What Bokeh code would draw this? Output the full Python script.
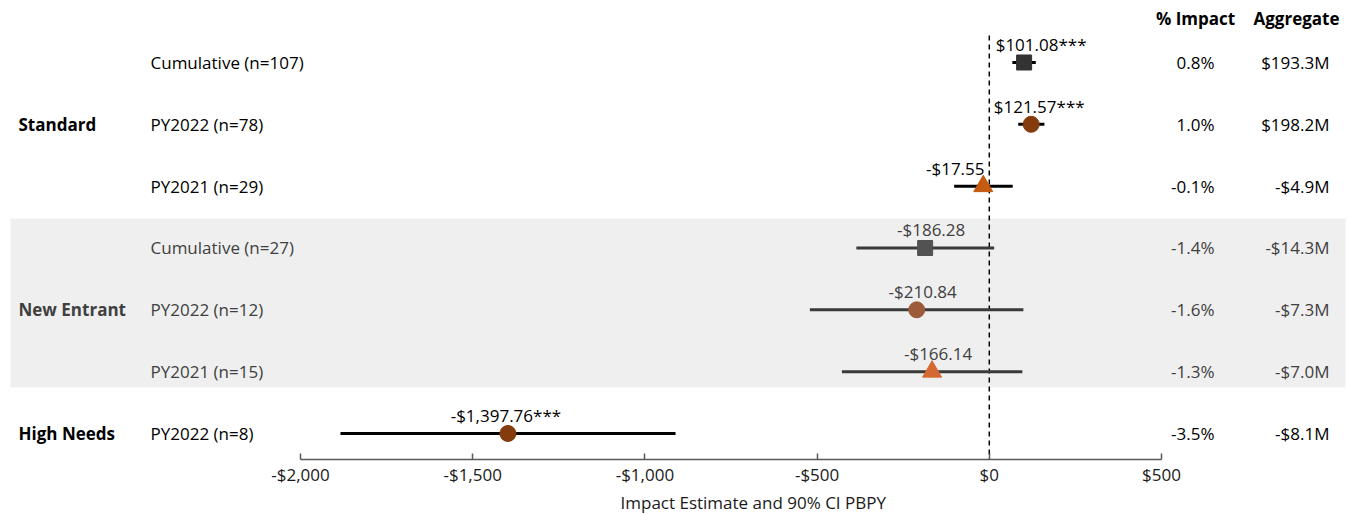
from bokeh.plotting import figure
from bokeh.models import Range1d, LinearAxis, FixedTicker, ColumnDataSource, Title
from bokeh.core.properties import value
from bokeh.embed import file_html
from bokeh.resources import INLINE

# ---- data ----
groups = ["Standard", "New Entrant", "High Needs"]
group_rows = [1, 4, 6]
subgroups = ["Cumulative (n=107)", "PY2022 (n=78)", "PY2021 (n=29)",
             "Cumulative (n=27)", "PY2022 (n=12)", "PY2021 (n=15)",
             "PY2022 (n=8)"]
estimates = [101.08, 121.57, -17.55, -186.28, -210.84, -166.14, -1397.76]
ci_low = [67, 84, -102, -386, -521, -428, -1884]
ci_high = [135, 160, 68, 14, 99, 96, -911]
stars = ["***", "***", "", "", "", "", "***"]
pct_impact = ["0.8%", "1.0%", "-0.1%", "-1.4%", "-1.6%", "-1.3%", "-3.5%"]
aggregate = ["$193.3M", "$198.2M", "-$4.9M", "-$14.3M", "-$7.3M", "-$7.0M", "-$8.1M"]
tick_vals = [-2000, -1500, -1000, -500, 0, 500]
tick_labels = ["-$2,000", "-$1,500", "-$1,000", "-$500", "$0", "$500"]

# ---- styles ----
marker_types = ["square", "circle", "triangle", "square", "circle", "triangle", "circle"]
marker_sizes = [15, 16, 19, 15, 16, 19, 16]
marker_colors = ["#333333", "#843C0C", "#C55A11",
                 "#525252", "#9E5B3B", "#D46A32", "#843C0C"]
ci_colors = ["#000000"] * 3 + ["#3A3A3A"] * 3 + ["#000000"]
text_colors = ["#000000"] * 3 + ["#404040"] * 3 + ["#000000"]
group_colors = ["#000000", "#404040", "#000000"]
label_dx = [17, 8, -28, 6, 6, 6, -2]

FONT = value("Open Sans")
FS = "17px"

# ---- layout geometry (pixels -> data) ----
W, H = 1349, 514
AX_LEFT_PX, AX_RIGHT_PX = 300, 1161
FRAME_H = 459
ROW0_PX, ROW_STEP = 62, 61.83
PX_PER = (AX_RIGHT_PX - AX_LEFT_PX) / (tick_vals[-1] - tick_vals[0])
x_start = tick_vals[0] - AX_LEFT_PX / PX_PER
x_end = x_start + W / PX_PER
y_top = -ROW0_PX / ROW_STEP
y_bot = (FRAME_H - ROW0_PX) / ROW_STEP


def xpx(px):
    return x_start + px / PX_PER


def ypx(py):
    return (py - ROW0_PX) / ROW_STEP


def money(v):
    s = f"${abs(v):,.2f}"
    return "-" + s if v < 0 else s


rows = list(range(len(subgroups)))
src = ColumnDataSource(dict(
    row=rows, est=estimates, lo=ci_low, hi=ci_high,
    sub=subgroups, pct=pct_impact, agg=aggregate,
    vlabel=[money(e) + s for e, s in zip(estimates, stars)],
    marker=marker_types, size=marker_sizes, mcolor=marker_colors,
    ccolor=ci_colors, tcolor=text_colors, dx=label_dx,
))

p = figure(width=W, height=H,
           x_range=Range1d(x_start, x_end), y_range=Range1d(y_bot, y_top),
           x_axis_type=None, y_axis_type=None,
           output_backend="svg", toolbar_location=None,
           min_border=0, min_border_bottom=H - FRAME_H,
           outline_line_color=None,
           background_fill_color="white", border_fill_color="white")

# shaded band behind the New Entrant block
p.quad(left=xpx(10), right=xpx(1345), top=ypx(218), bottom=ypx(387),
       fill_color="#EFEFEF", line_color=None)

# zero reference line
p.segment(x0=0, y0=ypx(35), x1=0, y1=y_bot,
          line_color="#000000", line_width=1.5, line_dash="5 4")

# confidence intervals and point estimates
p.segment(x0="lo", y0="row", x1="hi", y1="row", line_color="ccolor",
          line_width=3, source=src)
p.scatter(x="est", y="row", marker="marker", size="size",
          fill_color="mcolor", line_color="mcolor", source=src)

# estimate labels
p.text(x="est", y="row", text="vlabel", x_offset="dx", y_offset=-18,
       text_align="center", text_baseline="middle", text_color="tcolor",
       text_font=FONT, text_font_size=FS, source=src)

# left-hand labels
p.text(x=[xpx(18)] * len(groups), y=group_rows, text=groups,
       text_align="left", text_baseline="middle", text_color=group_colors,
       text_font=FONT, text_font_size=FS, text_font_style="bold")
p.text(x=xpx(150), y="row", text="sub", text_align="left",
       text_baseline="middle", text_color="tcolor",
       text_font=FONT, text_font_size=FS, source=src)

# right-hand columns
p.text(x=[xpx(1195), xpx(1296)], y=[ypx(18)] * 2, text=["% Impact", "Aggregate"],
       text_align="center", text_baseline="middle", text_color="#000000",
       text_font=FONT, text_font_size=FS, text_font_style="bold")
p.text(x=xpx(1214), y="row", text="pct", text_align="right",
       text_baseline="middle", text_color="tcolor",
       text_font=FONT, text_font_size=FS, source=src)
p.text(x=xpx(1329), y="row", text="agg", text_align="right",
       text_baseline="middle", text_color="tcolor",
       text_font=FONT, text_font_size=FS, source=src)

# x axis
axis = LinearAxis(
    ticker=FixedTicker(ticks=tick_vals),
    bounds=(tick_vals[0], tick_vals[-1]),
    major_label_overrides=dict(zip(tick_vals, tick_labels)),
    major_tick_in=6, major_tick_out=0, minor_tick_in=0, minor_tick_out=0,
    axis_line_color="#595959", axis_line_width=1.5,
    major_tick_line_color="#595959", major_tick_line_width=1.5,
    major_label_text_font="Open Sans", major_label_text_font_size=FS,
    major_label_text_color="#1a1a1a", major_label_standoff=3,
)
p.add_layout(axis, "below")

p.add_layout(Title(text="Impact Estimate and 90% CI PBPY", align="left",
                   offset=620, text_font="Open Sans", text_font_size=FS,
                   text_font_style="normal", text_color="#1a1a1a",
                   standoff=0), "below")

open("out.html", "w").write(file_html(p, INLINE))
